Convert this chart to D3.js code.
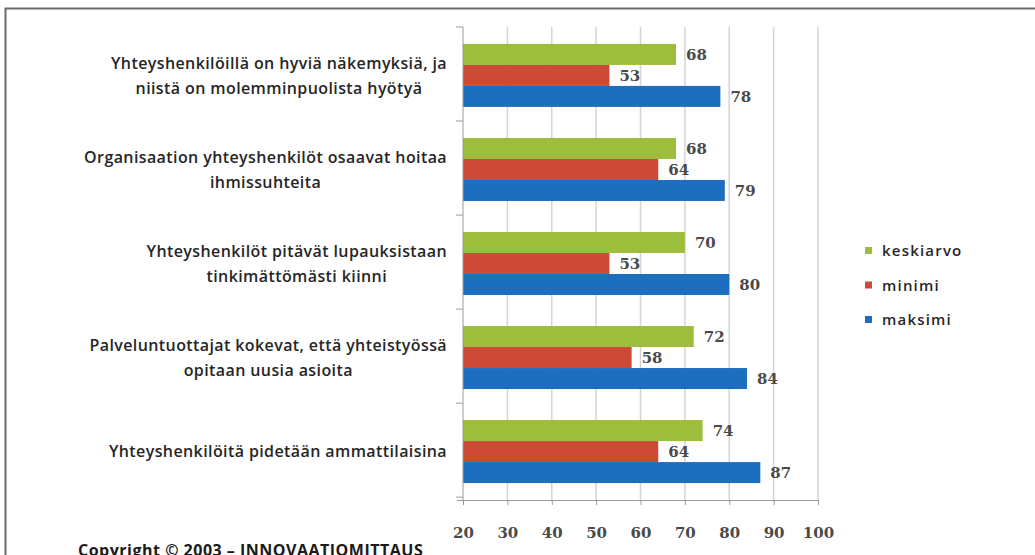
<!DOCTYPE html>
<html>
<head>
<meta charset="utf-8">
<script src="https://cdn.jsdelivr.net/npm/d3@7"></script>
<style>
  body { margin: 0; background: #fff; }
  svg { display: block; }
</style>
</head>
<body>
<div id="chart"></div>
<script>
// data
const categories = [
  ["Yhteyshenkilöillä on hyviä näkemyksiä, ja", "niistä on molemminpuolista hyötyä"],
  ["Organisaation yhteyshenkilöt osaavat hoitaa", "ihmissuhteita"],
  ["Yhteyshenkilöt pitävät lupauksistaan", "tinkimättömästi kiinni"],
  ["Palveluntuottajat kokevat, että yhteistyössä", "opitaan uusia asioita"],
  ["Yhteyshenkilöitä pidetään ammattilaisina"]
];
const seriesNames = ["keskiarvo", "minimi", "maksimi"];
const keskiarvo = [68, 68, 70, 72, 74];
const minimi = [53, 64, 53, 58, 64];
const maksimi = [78, 79, 80, 84, 87];
const xTicks = [20, 30, 40, 50, 60, 70, 80, 90, 100];
const colors = ["#9dbd3c", "#cc4a36", "#1e6ebf"];
const seriesValues = [keskiarvo, minimi, maksimi];

const width = 1035, height = 555;
const plot = { left: 463, right: 818, top: 27, bottom: 500 };

const svg = d3.select("#chart").append("svg")
  .attr("width", width)
  .attr("height", height);

// outer frame
svg.append("rect")
  .attr("x", 5.5).attr("y", 8.5)
  .attr("width", width + 10).attr("height", height + 10)
  .attr("fill", "none")
  .attr("stroke", "#6b6b6b")
  .attr("stroke-width", 2);

const x = d3.scaleLinear().domain([20, 100]).range([plot.left, plot.right]);
const y = d3.scaleBand()
  .domain(d3.range(categories.length))
  .range([plot.top, plot.bottom])
  .paddingInner(0.33)
  .paddingOuter(0.18);
const ySub = d3.scaleBand()
  .domain(d3.range(seriesNames.length))
  .range([0, y.bandwidth()]);

// gridlines
svg.append("g")
  .selectAll("line")
  .data(xTicks.slice(1))
  .join("line")
  .attr("x1", d => x(d)).attr("x2", d => x(d))
  .attr("y1", plot.top).attr("y2", plot.bottom)
  .attr("stroke", "#d4d4d4")
  .attr("stroke-width", 1.5);

// bars
const groups = svg.append("g")
  .selectAll("g")
  .data(categories)
  .join("g")
  .attr("transform", (d, i) => `translate(0,${y(i)})`);

groups.selectAll("rect")
  .data((d, i) => seriesValues.map((s, k) => ({ k, v: s[i] })))
  .join("rect")
  .attr("x", x(20))
  .attr("y", d => ySub(d.k))
  .attr("width", d => x(d.v) - x(20))
  .attr("height", ySub.bandwidth())
  .attr("fill", d => colors[d.k]);

groups.selectAll("text.val")
  .data((d, i) => seriesValues.map((s, k) => ({ k, v: s[i] })))
  .join("text")
  .attr("class", "val")
  .attr("x", d => x(d.v) + 10)
  .attr("y", d => ySub(d.k) + ySub.bandwidth() / 2)
  .attr("dy", "0.35em")
  .attr("font-family", "DejaVu Serif")
  .attr("font-size", 15)
  .attr("font-weight", "bold")
  .attr("fill", "#4a4a4a")
  .text(d => d.v);

// x axis
const xAxis = svg.append("g")
  .attr("transform", `translate(0,${plot.bottom})`)
  .call(d3.axisBottom(x).tickValues(xTicks).tickSize(5).tickPadding(22).tickSizeOuter(0));
xAxis.select(".domain").attr("stroke", "#9a9a9a").attr("d", `M${plot.left - 6},0.5H${plot.right}`);
xAxis.selectAll(".tick line").attr("stroke", "#9a9a9a");
xAxis.selectAll(".tick text")
  .attr("font-family", "DejaVu Serif")
  .attr("font-size", 15)
  .attr("font-weight", "bold")
  .attr("fill", "#4a4a4a");

// category axis
const yAxisG = svg.append("g");
yAxisG.append("line")
  .attr("x1", plot.left).attr("x2", plot.left)
  .attr("y1", plot.top).attr("y2", plot.bottom)
  .attr("stroke", "#9a9a9a");
yAxisG.selectAll("line.tk")
  .data(d3.range(categories.length + 1))
  .join("line")
  .attr("class", "tk")
  .attr("x1", plot.left - 7).attr("x2", plot.left)
  .attr("y1", i => plot.top + i * y.step())
  .attr("y2", i => plot.top + i * y.step())
  .attr("stroke", "#9a9a9a");

// category labels: block right-aligned, lines centered inside it
const labelRight = 447, lineH = 25;
categories.forEach((lines, i) => {
  const cy = y(i) + y.bandwidth() / 2;
  const g = svg.append("g");
  const texts = lines.map((ln, j) => g.append("text")
    .attr("y", cy + (j - (lines.length - 1) / 2) * lineH)
    .attr("dy", "0.35em")
    .attr("font-family", "Open Sans")
    .attr("font-size", 16)
    .attr("font-weight", 600)
    .attr("letter-spacing", 0.4)
    .attr("fill", "#262626")
    .attr("text-anchor", "middle")
    .text(ln));
  const w = d3.max(texts, t => t.node().getComputedTextLength());
  texts.forEach(t => t.attr("x", labelRight - w / 2));
});

// legend
const legend = svg.append("g").attr("transform", "translate(865,251)");
seriesNames.forEach((name, k) => {
  const row = legend.append("g").attr("transform", `translate(0,${k * 34.5})`);
  row.append("rect").attr("x", 0).attr("y", -4).attr("width", 7).attr("height", 7).attr("fill", colors[k]);
  row.append("text")
    .attr("x", 17).attr("y", 0).attr("dy", "0.35em")
    .attr("font-family", "Open Sans")
    .attr("font-size", 15)
    .attr("font-weight", 600)
    .attr("letter-spacing", 1.2)
    .attr("fill", "#262626")
    .text(name);
});

// copyright
svg.append("text")
  .attr("x", 78).attr("y", 556)
  .attr("font-family", "Open Sans")
  .attr("font-size", 16)
  .attr("font-weight", "bold")
  .attr("letter-spacing", 0.5)
  .attr("fill", "#1a1a1a")
  .text("Copyright © 2003 – INNOVAATIOMITTAUS");
</script>
</body>
</html>
